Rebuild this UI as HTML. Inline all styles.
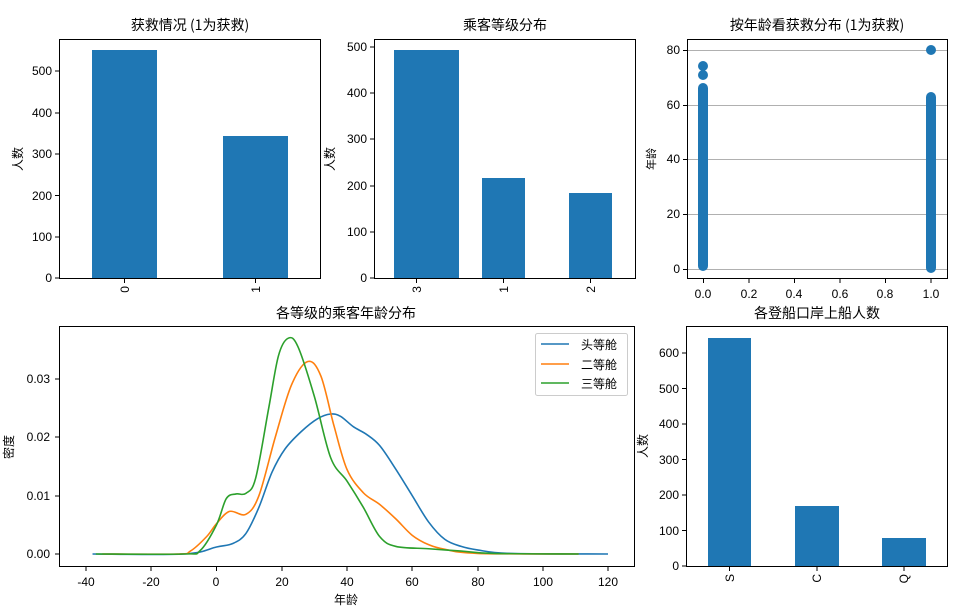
<!DOCTYPE html>
<html><head><meta charset="utf-8"><style>
html,body{margin:0;padding:0;background:#fff;}
svg{display:block;}
text{font-family:"Liberation Sans","WenQuanYi Zen Hei",sans-serif;font-size:12px;fill:#000;}
.t{font-family:"WenQuanYi Zen Hei","Noto Sans CJK SC",sans-serif;font-size:14px;}
.c{font-family:"WenQuanYi Zen Hei","Noto Sans CJK SC",sans-serif;font-size:12px;}
</style></head><body>
<svg id="s" width="974" height="612" xmlns="http://www.w3.org/2000/svg">
<rect width="974" height="612" fill="#fff"/>
<!-- Panel 1 -->
<rect x="92" y="50" width="65" height="228" fill="#1f77b4"/>
<rect x="223" y="136" width="65" height="142" fill="#1f77b4"/>
<rect x="59.5" y="39.5" width="261" height="239" fill="none" stroke="#000" stroke-width="1"/>
<g stroke="#000">
<line x1="55" y1="278" x2="59" y2="278"/><line x1="55" y1="237" x2="59" y2="237"/><line x1="55" y1="195.5" x2="59" y2="195.5"/><line x1="55" y1="154" x2="59" y2="154"/><line x1="55" y1="113" x2="59" y2="113"/><line x1="55" y1="71" x2="59" y2="71"/>
<line x1="124.5" y1="279" x2="124.5" y2="283"/><line x1="255.5" y1="279" x2="255.5" y2="283"/>
</g>
<g text-anchor="end"><text x="52" y="282">0</text><text x="52" y="241">100</text><text x="52" y="200">200</text><text x="52" y="158">300</text><text x="52" y="117">400</text><text x="52" y="75">500</text></g>
<text transform="translate(129,286) rotate(-90)" text-anchor="end">0</text>
<text transform="translate(260,286) rotate(-90)" text-anchor="end">1</text>
<text class="c" transform="translate(22,159) rotate(-90)" text-anchor="middle">人数</text>
<text class="t" x="190" y="30" text-anchor="middle">获救情况 (1为获救)</text>
<!-- Panel 2 -->
<rect x="394" y="50" width="65" height="228" fill="#1f77b4"/>
<rect x="482" y="178" width="43" height="100" fill="#1f77b4"/>
<rect x="569" y="193" width="43" height="85" fill="#1f77b4"/>
<rect x="374.5" y="39.5" width="261" height="239" fill="none" stroke="#000"/>
<g stroke="#000">
<line x1="370" y1="278" x2="374" y2="278"/><line x1="370" y1="232" x2="374" y2="232"/><line x1="370" y1="186" x2="374" y2="186"/><line x1="370" y1="139" x2="374" y2="139"/><line x1="370" y1="93" x2="374" y2="93"/><line x1="370" y1="47" x2="374" y2="47"/>
<line x1="416.5" y1="279" x2="416.5" y2="283"/><line x1="503.5" y1="279" x2="503.5" y2="283"/><line x1="590.5" y1="279" x2="590.5" y2="283"/>
</g>
<g text-anchor="end"><text x="367" y="282">0</text><text x="367" y="236">100</text><text x="367" y="190">200</text><text x="367" y="143">300</text><text x="367" y="97">400</text><text x="367" y="51">500</text></g>
<text transform="translate(421,286) rotate(-90)" text-anchor="end">3</text>
<text transform="translate(508,286) rotate(-90)" text-anchor="end">1</text>
<text transform="translate(595,286) rotate(-90)" text-anchor="end">2</text>
<text class="c" transform="translate(334,159) rotate(-90)" text-anchor="middle">人数</text>
<text class="t" x="505" y="30" text-anchor="middle">乘客等级分布</text>
<!-- Panel 3 -->
<g stroke="#b0b0b0" stroke-width="1">
<line x1="687" y1="269.5" x2="947" y2="269.5"/><line x1="687" y1="214.5" x2="947" y2="214.5"/><line x1="687" y1="159.5" x2="947" y2="159.5"/><line x1="687" y1="105.5" x2="947" y2="105.5"/><line x1="687" y1="50.5" x2="947" y2="50.5"/>
</g>
<g stroke="#1f77b4" stroke-linecap="round" stroke-width="10">
<line x1="703" y1="266" x2="703" y2="88"/><line x1="931" y1="268" x2="931" y2="97"/>
</g>
<g fill="#1f77b4"><circle cx="703" cy="75" r="5"/><circle cx="703" cy="66" r="5"/><circle cx="931" cy="50" r="5"/></g>
<rect x="687.5" y="39.5" width="260" height="239" fill="none" stroke="#000"/>
<g stroke="#000">
<line x1="683" y1="269.5" x2="687" y2="269.5"/><line x1="683" y1="214.5" x2="687" y2="214.5"/><line x1="683" y1="159.5" x2="687" y2="159.5"/><line x1="683" y1="105.5" x2="687" y2="105.5"/><line x1="683" y1="50.5" x2="687" y2="50.5"/>
<line x1="703.5" y1="279" x2="703.5" y2="283"/><line x1="749" y1="279" x2="749" y2="283"/><line x1="794.5" y1="279" x2="794.5" y2="283"/><line x1="840" y1="279" x2="840" y2="283"/><line x1="885.5" y1="279" x2="885.5" y2="283"/><line x1="931" y1="279" x2="931" y2="283"/>
</g>
<g text-anchor="end"><text x="680" y="273">0</text><text x="680" y="218">20</text><text x="680" y="163">40</text><text x="680" y="109">60</text><text x="680" y="54">80</text></g>
<g text-anchor="middle"><text x="703" y="298">0.0</text><text x="749" y="298">0.2</text><text x="794" y="298">0.4</text><text x="840" y="298">0.6</text><text x="885" y="298">0.8</text><text x="931" y="298">1.0</text></g>
<text class="c" transform="translate(655,159) rotate(-90)" text-anchor="middle" style="font-size:11px">年龄</text>
<text class="t" x="817" y="30" text-anchor="middle">按年龄看获救分布 (1为获救)</text>
<!-- Panel 4 -->
<g id="curves" fill="none" stroke-width="1.6"></g>
<rect x="59.5" y="326.5" width="575" height="240" fill="none" stroke="#000"/>
<g stroke="#000">
<line x1="55" y1="554" x2="59" y2="554"/><line x1="55" y1="496" x2="59" y2="496"/><line x1="55" y1="437" x2="59" y2="437"/><line x1="55" y1="379" x2="59" y2="379"/>
<line x1="86" y1="567" x2="86" y2="571"/><line x1="151" y1="567" x2="151" y2="571"/><line x1="216.5" y1="567" x2="216.5" y2="571"/><line x1="282" y1="567" x2="282" y2="571"/><line x1="347" y1="567" x2="347" y2="571"/><line x1="412" y1="567" x2="412" y2="571"/><line x1="478" y1="567" x2="478" y2="571"/><line x1="543" y1="567" x2="543" y2="571"/><line x1="608" y1="567" x2="608" y2="571"/>
</g>
<g text-anchor="end"><text x="50" y="558">0.00</text><text x="50" y="500">0.01</text><text x="50" y="441">0.02</text><text x="50" y="383">0.03</text></g>
<g text-anchor="middle"><text x="86" y="586">-40</text><text x="151" y="586">-20</text><text x="216" y="586">0</text><text x="282" y="586">20</text><text x="347" y="586">40</text><text x="412" y="586">60</text><text x="478" y="586">80</text><text x="543" y="586">100</text><text x="608" y="586">120</text></g>
<text class="c" x="346" y="604" text-anchor="middle">年龄</text>
<text class="c" transform="translate(13,447) rotate(-90)" text-anchor="middle">密度</text>
<text class="t" x="346" y="318" text-anchor="middle">各等级的乘客年龄分布</text>
<rect x="535.5" y="333.5" width="92" height="62" rx="2" fill="#fff" stroke="#ccc"/>
<line x1="541" y1="344" x2="569" y2="344" stroke="#1f77b4" stroke-width="1.6"/>
<line x1="541" y1="364" x2="569" y2="364" stroke="#ff7f0e" stroke-width="1.6"/>
<line x1="541" y1="383" x2="569" y2="383" stroke="#2ca02c" stroke-width="1.6"/>
<text class="c" x="581" y="349">头等舱</text><text class="c" x="581" y="369">二等舱</text><text class="c" x="581" y="388">三等舱</text>
<!-- Panel 5 -->
<rect x="708" y="338" width="43" height="228" fill="#1f77b4"/>
<rect x="795" y="506" width="44" height="60" fill="#1f77b4"/>
<rect x="882" y="538" width="44" height="28" fill="#1f77b4"/>
<rect x="686.5" y="326.5" width="261" height="240" fill="none" stroke="#000"/>
<g stroke="#000">
<line x1="682" y1="566" x2="686" y2="566"/><line x1="682" y1="530.5" x2="686" y2="530.5"/><line x1="682" y1="495" x2="686" y2="495"/><line x1="682" y1="459.5" x2="686" y2="459.5"/><line x1="682" y1="424" x2="686" y2="424"/><line x1="682" y1="388.5" x2="686" y2="388.5"/><line x1="682" y1="353" x2="686" y2="353"/>
<line x1="729.5" y1="567" x2="729.5" y2="571"/><line x1="817" y1="567" x2="817" y2="571"/><line x1="904" y1="567" x2="904" y2="571"/>
</g>
<g text-anchor="end"><text x="679" y="570">0</text><text x="679" y="535">100</text><text x="679" y="499">200</text><text x="679" y="464">300</text><text x="679" y="428">400</text><text x="679" y="393">500</text><text x="679" y="357">600</text></g>
<text transform="translate(734,574) rotate(-90)" text-anchor="end">S</text>
<text transform="translate(821,574) rotate(-90)" text-anchor="end">C</text>
<text transform="translate(908,574) rotate(-90)" text-anchor="end">Q</text>
<text class="c" transform="translate(647,446) rotate(-90)" text-anchor="middle">人数</text>
<text class="t" x="817" y="318" text-anchor="middle">各登船口岸上船人数</text>
</svg>
<script>
var data={
"#1f77b4":[[-38,0],[-10,0],[0,0.0012],[5,0.0018],[9,0.0035],[13,0.008],[17,0.014],[21,0.018],[26,0.021],[31,0.0232],[35,0.024],[38,0.0236],[42,0.0218],[46,0.0205],[50,0.0186],[55,0.0145],[60,0.0100],[65,0.0055],[70,0.0025],[75,0.0013],[80,0.0007],[90,0.0001],[120,0]],
"#ff7f0e":[[-35,0],[-12,0],[-8,0.0005],[-3,0.003],[0,0.0052],[4,0.0073],[9,0.0068],[13,0.01],[18,0.02],[23,0.029],[28,0.033],[32,0.0305],[36,0.022],[40,0.0145],[45,0.0105],[50,0.0085],[55,0.006],[60,0.0032],[65,0.0016],[70,0.0008],[80,0.0001],[111,0]],
"#2ca02c":[[-37,0],[-10,0],[-5,0.0006],[0,0.005],[3,0.0095],[6,0.0103],[9,0.0104],[12,0.013],[16,0.025],[19,0.034],[22,0.037],[25,0.0355],[30,0.027],[35,0.0165],[40,0.0125],[45,0.008],[50,0.003],[55,0.0013],[65,0.0009],[75,0.0005],[85,0.0001],[111,0]]};
var g=document.getElementById("curves"),ns="http://www.w3.org/2000/svg";
for(var col in data){var p=data[col].map(function(d){return [216.5+3.2625*d[0],554-5833*d[1]]});
var s="M"+p[0][0]+","+p[0][1];
for(var i=0;i<p.length-1;i++){var p0=p[Math.max(0,i-1)],p1=p[i],p2=p[i+1],p3=p[Math.min(p.length-1,i+2)];
s+=" C"+(p1[0]+(p2[0]-p0[0])/6)+","+(p1[1]+(p2[1]-p0[1])/6)+" "+(p2[0]-(p3[0]-p1[0])/6)+","+(p2[1]-(p3[1]-p1[1])/6)+" "+p2[0]+","+p2[1];}
var e=document.createElementNS(ns,"path");e.setAttribute("d",s);e.setAttribute("stroke",col);g.appendChild(e);}
</script>
</body></html>
